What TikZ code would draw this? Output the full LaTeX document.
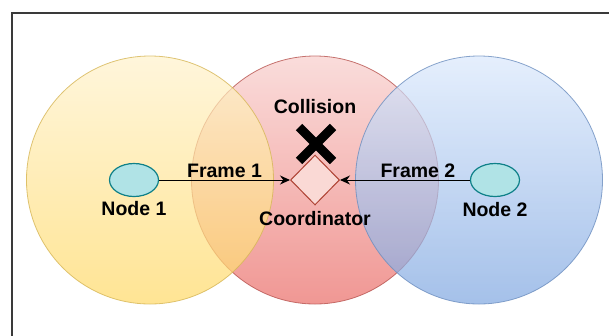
\documentclass[tikz,border=0pt]{standalone}
\usepackage{fontspec}
\setmainfont{Liberation Sans}
\usetikzlibrary{arrows.meta, positioning, shapes.geometric, calc}
\definecolor{yellowtop}{HTML}{FFF2CC}
\definecolor{yellowbot}{HTML}{FFD966}
\definecolor{yellowline}{HTML}{D6B656}
\definecolor{redtop}{HTML}{F8CECC}
\definecolor{redbot}{HTML}{EA6B66}
\definecolor{redline}{HTML}{B85450}
\definecolor{bluetop}{HTML}{DAE8FC}
\definecolor{bluebot}{HTML}{7EA6E0}
\definecolor{blueline}{HTML}{6C8EBF}
\definecolor{nodefill}{HTML}{B0E3E6}
\definecolor{nodeline}{HTML}{0E8088}
\definecolor{coordfill}{HTML}{FAD9D5}
\definecolor{coordline}{HTML}{AE4132}
\definecolor{framegray}{HTML}{3A3A3A}

\begin{document}
\begin{tikzpicture}[x=1pt, y=-1pt,
  coverage/.style={ellipse, minimum width=247pt, minimum height=248pt, inner sep=0pt, line width=0.8pt, fill opacity=0.7, draw opacity=0.8},
  station/.style={ellipse, minimum width=49pt, minimum height=33pt, inner sep=0pt, draw=nodeline, fill=nodefill, line width=1.2pt},
  hub/.style={diamond, minimum width=49pt, minimum height=50pt, inner sep=0pt, draw=coordline, fill=coordfill, line width=1pt},
  lbl/.style={font=\bfseries\fontsize{19.5}{21}\selectfont, text=black},
  txarrow/.style={-{Stealth[length=10pt, width=9pt]}, line width=1pt, black}]
  \useasboundingbox (0,0) rectangle (609,335);
  \clip (0,0) rectangle (609,335);
  \draw[framegray, line width=1.4pt] (12,13) rectangle (640,360);
  % Transmission ranges
  \node[coverage, draw=redline, top color=redtop, bottom color=redbot] (rangec) at (315,180) {};
  \node[coverage, draw=yellowline, top color=yellowtop, bottom color=yellowbot] (range1) at (150,180) {};
  \node[coverage, draw=blueline, top color=bluetop, bottom color=bluebot] (range2) at (479,180) {};
  % Stations
  \node[station] (n1) at (134,180) {};
  \node[station] (n2) at (495,180) {};
  \node[hub] (coord) at (315,180) {};
  \node[lbl, below=1pt of n1] (n1txt) {Node 1};
  \node[lbl, below=2pt of n2] (n2txt) {Node 2};
  \node[lbl, below=2pt of coord] (coordtxt) {Coordinator};
  % Frames sent at the same time
  \draw[txarrow] (n1) -- node[lbl, above, inner sep=2pt] (f1) {Frame 1} (coord);
  \draw[txarrow] (n2) -- node[lbl, above, inner sep=2pt, pos=0.4] (f2) {Frame 2} (coord);
  % Collision mark
  \coordinate (xmark) at (316,144);
  \draw[line width=9pt] ($(xmark)+(-17,-17)$) -- ($(xmark)+(17,17)$);
  \draw[line width=9pt] ($(xmark)+(-17,17)$) -- ($(xmark)+(17,-17)$);
  \node[lbl] (coll) at (315,107) {Collision};
\end{tikzpicture}
\end{document}
